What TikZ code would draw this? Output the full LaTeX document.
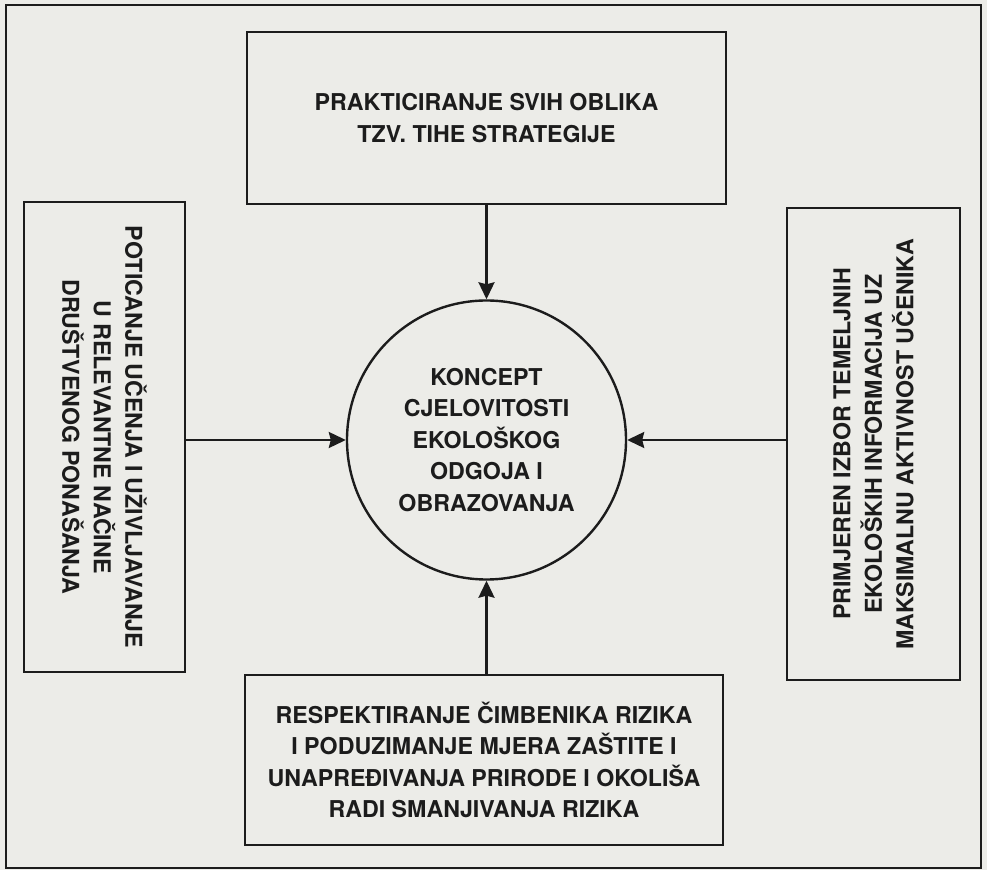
\documentclass[tikz,border=0pt]{standalone}
\usepackage{fontspec}
\setmainfont{TeX Gyre Heros}
\usepackage{tikz}
\usetikzlibrary{shapes,shapes.misc,arrows.meta}
\definecolor{paper}{RGB}{236,236,232}
\definecolor{ink}{RGB}{28,28,28}

\begin{document}
\begin{tikzpicture}[x=1pt,y=1pt,
  every node/.append style={font=\bfseries\fontsize{23.2}{31.5}\selectfont,color=ink,align=center},
  every circle node/.append style={draw=ink,line width=2.4pt,minimum size=279pt,inner sep=0pt}]
  \tikzstyle{block} = [rectangle,draw=ink,line width=2.6pt,inner sep=0pt]
  \tikzstyle{pointer} = [-{Stealth[length=17pt,width=16pt,inset=2pt]},draw=ink,line width=2.4pt]
  \useasboundingbox[fill=paper] (0,0) rectangle (987,870);
  \draw[ink,line width=1.8pt] (6,865) rectangle (981,2);
  \node (1_1) at (486.5,430) [circle] {KONCEPT\\CJELOVITOSTI\\EKOLOŠKOG\\ODGOJA I\\OBRAZOVANJA};
  \node (1_2) at (486.5,752) [block,minimum width=479pt,minimum height=172pt] {PRAKTICIRANJE SVIH OBLIKA\\TZV. TIHE STRATEGIJE};
  \node (1_3) at (104.5,433) [block,rotate=-90,minimum width=470pt,minimum height=161pt] {POTICANJE UČENJA I UŽIVLJAVANJE\\U RELEVANTNE NAČINE\\DRUŠTVENOG PONAŠANJA};
  \node (1_4) at (873.5,426) [block,rotate=90,minimum width=472pt,minimum height=173pt] {PRIMJEREN IZBOR TEMELJNIH\\EKOLOŠKIH INFORMACIJA UZ\\MAKSIMALNU AKTIVNOST UČENIKA};
  \node (1_5) at (484,110) [block,minimum width=478pt,minimum height=170pt] {RESPEKTIRANJE ČIMBENIKA RIZIKA\\I PODUZIMANJE MJERA ZAŠTITE I\\UNAPREĐIVANJA PRIRODE I OKOLIŠA\\RADI SMANJIVANJA RIZIKA};
  \draw[pointer] (1_2) -- (1_1);
  \draw[pointer] (1_3.north |- 1_1) -- (1_1);
  \draw[pointer] (1_4.north |- 1_1) -- (1_1);
  \draw[pointer] (1_1 |- 1_5.north) -- (1_1);
\end{tikzpicture}
\end{document}
